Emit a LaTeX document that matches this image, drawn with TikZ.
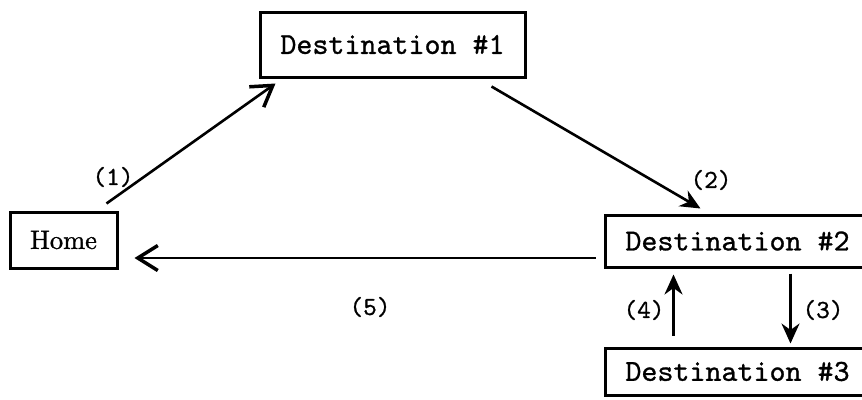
\documentclass[tikz,border=0pt]{standalone}
\usepackage{fontspec}
\usetikzlibrary{arrows.meta}
\newfontfamily\typedfont{lmmono10-regular}[Extension=.otf,FakeBold=0.9]
\newfontfamily\homefont{lmroman10-regular}[Extension=.otf,FakeBold=1]
\begin{document}
\begin{tikzpicture}[x=1pt,y=-1pt,
  box/.style={draw,line width=3pt,inner sep=0pt,font=\typedfont\fontsize{30.5}{36}\selectfont},
  lbl/.style={inner sep=0pt,font=\typedfont\fontsize{26}{30}\selectfont},
  arr/.style={line width=2.6pt,-{Stealth[length=20pt,width=18pt]}},
  barb/.style={line width=2.6pt,-{Straight Barb[length=20pt,width=25pt,line width=3.5pt]}}]
\useasboundingbox (0,0) rectangle (862,399);
\clip (0,0) rectangle (862,399);
\node[box,minimum width=107pt,minimum height=56pt,font=\homefont\fontsize{26.5}{30}\selectfont] (home) at (63.5,240) {Home};
\node[box,minimum width=265pt,minimum height=65pt] (d1) at (392.5,44.5) {Destination \#1};
\node[box,minimum width=265pt,minimum height=52pt] (d2) at (737.5,241) {Destination \#2};
\node[box,minimum width=265pt,minimum height=47pt] (d3) at (737.5,371.5) {Destination \#3};
\draw[barb] ([shift={(-12,-7)}]home.north east) -- ([shift={(17,5)}]d1.south west);
\draw[arr] ([shift={(-35,8)}]d1.south east) -- ([shift={(97,-5)}]d2.north west);
\draw[barb] ([shift={(-8,17)}]d2.west) -- ([shift={(16,18)}]home.east);
\draw[arr] ([shift={(187,5)}]d2.south west) -- ([shift={(187,-3)}]d3.north west);
\draw[arr] ([shift={(70,-11)}]d3.north west) -- ([shift={(70,6)}]d2.south west);
\node[lbl] (l1) at (113,177) {(1)};
\node[lbl] (l2) at (711,180) {(2)};
\node[lbl] (l5) at (370,307) {(5)};
\node[lbl] (l4) at (644,310) {(4)};
\node[lbl] (l3) at (823,310) {(3)};
\end{tikzpicture}
\end{document}
